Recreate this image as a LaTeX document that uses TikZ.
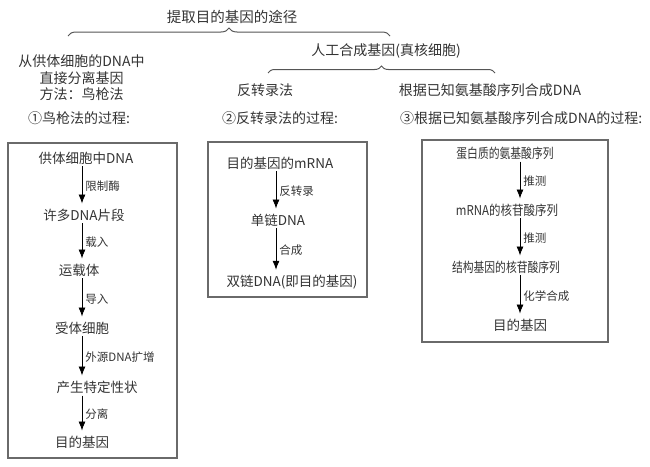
\documentclass[tikz,border=0pt]{standalone}
\usepackage{fontspec}
\setmainfont{Noto Sans CJK SC}
\usetikzlibrary{arrows.meta,decorations.pathreplacing}
\definecolor{txt}{HTML}{333333}
\definecolor{boxc}{HTML}{6A6A6A}
\definecolor{bracec}{HTML}{555555}
\tikzset{
  head/.style={font=\fontsize{14}{16.5}\selectfont, text=txt, inner sep=0pt},
  item/.style={font=\fontsize{13.5}{14}\selectfont, text=txt, inner sep=0pt},
  lbl/.style={font=\fontsize{11.5}{12}\selectfont, text=txt, inner sep=0pt, right, xshift=3pt},
  arr/.style={draw=black, line width=0.8pt, -{Latex[length=9pt,width=7pt]}, shorten <=2pt, shorten >=5pt},
  boxst/.style={draw=boxc, line width=1.4pt},
  bracest/.style={draw=bracec, line width=1pt, decorate},
}
\begin{document}
\begin{tikzpicture}[x=1pt,y=-1pt]
\useasboundingbox (0,0) rectangle (650,466);
% top level
\node[head, font=\fontsize{14.5}{16}\selectfont] (title) at (232,17) {提取目的基因的途径};
\draw[bracest, decoration={brace, amplitude=8pt}] (68,36) -- (390,36);
\node[head, align=center] (direct) at (81.5,78) {从供体细胞的DNA中\\直接分离基因\\方法：鸟枪法};
\node[head] (artif) at (386,51) {人工合成基因(真核细胞)};
\draw[bracest, decoration={brace, amplitude=7pt}] (268,73) -- (495,73);
\node[head] (rev) at (265,90) {反转录法};
\node[head] (aa) at (490,90) {根据已知氨基酸序列合成DNA};
\node[head, anchor=west] (h1) at (28,118) {①鸟枪法的过程:};
\node[head, anchor=west] (h2) at (222,118) {②反转录法的过程:};
\node[head, anchor=west] (h3) at (400,118) {③根据已知氨基酸序列合成DNA的过程:};
% boxes
\draw[boxst] (8,143) rectangle (177,458);
\draw[boxst] (208,142) rectangle (367,297);
\draw[boxst] (422,140) rectangle (608,342);
% box 1
\coordinate (ax1) at (82,0);
\node[item] (a1) at (86,158) {供体细胞中DNA};
\node[item] (a2) at (84,215) {许多DNA片段};
\node[item] (a3) at (79,270) {运载体};
\node[item] (a4) at (82,328) {受体细胞};
\node[item] (a5) at (97,387) {产生特定性状};
\node[item] (a6) at (82,442) {目的基因};
\draw[arr] (a1.south -| ax1) -- node[lbl] {限制酶} (a2.north -| ax1);
\draw[arr] (a2.south -| ax1) -- node[lbl] {载入} (a3.north -| ax1);
\draw[arr] (a3.south -| ax1) -- node[lbl] {导入} (a4.north -| ax1);
\draw[arr] (a4.south -| ax1) -- node[lbl] {外源DNA扩增} (a5.north -| ax1);
\draw[arr] (a5.south -| ax1) -- node[lbl] {分离} (a6.north -| ax1);
% box 2
\coordinate (ax2) at (276,0);
\node[item] (b1) at (280,163) {目的基因的mRNA};
\node[item] (b2) at (278,220) {单链DNA};
\node[item] (b3) at (292,282) {双链DNA(即目的基因)};
\draw[arr] (b1.south -| ax2) -- node[lbl] {反转录} (b2.north -| ax2);
\draw[arr] (b2.south -| ax2) -- node[lbl] {合成} (b3.north -| ax2);
% box 3
\coordinate (ax3) at (520,0);
\node[item] (c1) at (505,153) {\scalebox{0.8}[1]{蛋白质的氨基酸序列}};
\node[item] (c2) at (507,210) {\scalebox{0.85}[1]{mRNA的核苷酸序列}};
\node[item] (c3) at (506,267) {\scalebox{0.8}[1]{结构基因的核苷酸序列}};
\node[item] (c4) at (520,325) {目的基因};
\draw[arr] (c1.south -| ax3) -- node[lbl] {推测} (c2.north -| ax3);
\draw[arr] (c2.south -| ax3) -- node[lbl] {推测} (c3.north -| ax3);
\draw[arr] (c3.south -| ax3) -- node[lbl] {化学合成} (c4.north -| ax3);
\end{tikzpicture}
\end{document}
